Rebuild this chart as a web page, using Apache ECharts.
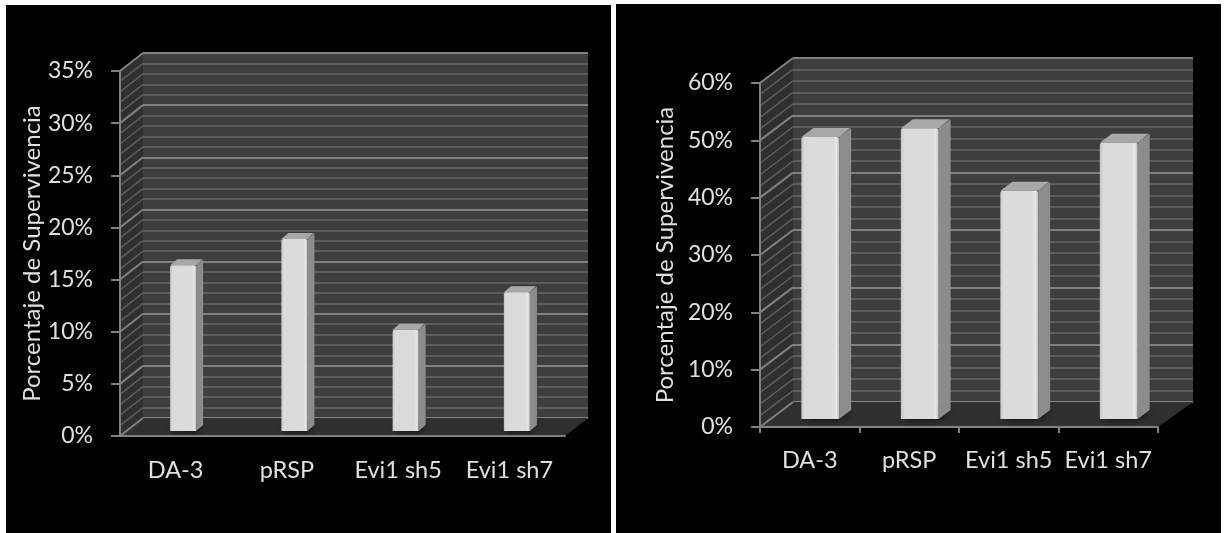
<!DOCTYPE html>
<html>
<head>
<meta charset="utf-8">
<style>html,body{margin:0;padding:0;background:#fff}#c{width:1228px;height:533px;filter:blur(0.45px)}</style>
<script src="https://cdn.jsdelivr.net/npm/echarts@6/dist/echarts.min.js"></script>
</head>
<body>
<div id="c"></div>
<script>
const categories = ['DA-3', 'pRSP', 'Evi1 sh5', 'Evi1 sh7'];
const leftValues = [15.9, 18.4, 9.7, 13.3];
const rightValues = [49.2, 50.7, 39.8, 48.2];
const leftMinorTicks = [0,1,2,3,4,5,6,7,8,9,10,11,12,13,14,15,16,17,18,19,20,21,22,23,24,25,26,27,28,29,30,31,32,33,34,35];
const rightMinorTicks = [0,2,4,6,8,10,12,14,16,18,20,22,24,26,28,30,32,34,36,38,40,42,44,46,48,50,52,54,56,58,60];
const yLabelTitle = 'Porcentaje de Supervivencia';

const AXIS = '#808080', MAJOR = '#808080', MINOR = '#5c5c5c', WALL = '#3e3e3e', SIDE = '#2f2f2f', FLOOR = '#303030', TEXT = '#e0e0e0';
const FONT = 'Lato, "Open Sans", sans-serif';

const panels = [
  { values: leftValues, ticks: leftMinorTicks, max: 35, major: 5, rect: {left:120, top:71, width:445, height:365},
    depth: [23, 18], backExtra: 0, barRatio: 0.234, barOff: [7.5, 5], barDepth: [7, 6], nameGap: 74, xTick: false, labelMargin: 22 },
  { values: rightValues, ticks: rightMinorTicks, max: 60, major: 10, rect: {left:760, top:83, width:398, height:344},
    depth: [33, 25], backExtra: 2, barRatio: 0.38, barOff: [10.5, 8], barDepth: [12, 9], nameGap: 83, xTick: true, labelMargin: 21 }
];

const grid = [], xAxis = [], yAxis = [], series = [];
panels.forEach((p) => {
  const f = grid.length, b = f + 1;
  grid.push({ left: p.rect.left, top: p.rect.top, width: p.rect.width, height: p.rect.height, containLabel: false, z: 0 });
  grid.push({ left: p.rect.left + p.depth[0], top: p.rect.top - p.depth[1], width: p.rect.width + p.backExtra, height: p.rect.height,
              show: true, backgroundColor: WALL, borderWidth: 0, z: 0 });
  xAxis.push({ gridIndex: f, type: 'category', data: categories, z: 5,
    axisLine: { show: true, lineStyle: { color: AXIS, width: 2 } },
    axisTick: { show: p.xTick, length: 6, lineStyle: { color: AXIS, width: 2 } },
    axisLabel: { color: TEXT, fontSize: 23.5, fontFamily: FONT, margin: p.labelMargin, interval: 0 } });
  yAxis.push({ gridIndex: f, type: 'value', min: 0, max: p.max, interval: p.major, z: 5,
    name: yLabelTitle, nameLocation: 'middle', nameGap: p.nameGap,
    nameTextStyle: { color: TEXT, fontSize: 24, fontFamily: FONT },
    axisLine: { show: true, lineStyle: { color: AXIS, width: 2 } },
    axisTick: { show: true, length: 9, lineStyle: { color: AXIS, width: 2 } },
    axisLabel: { color: TEXT, fontSize: 23, fontFamily: FONT, margin: 27, padding: [3, 0, 0, 0], formatter: '{value}%' },
    splitLine: { show: false } });
  xAxis.push({ gridIndex: b, type: 'category', data: categories, show: false });
  yAxis.push({ gridIndex: b, type: 'value', min: 0, max: p.max, interval: p.major, z: 1,
    axisLine: { show: false }, axisTick: { show: false }, axisLabel: { show: false },
    splitLine: { show: true, lineStyle: { color: MAJOR, width: 2 } },
    minorTick: { show: false, splitNumber: 5 },
    minorSplitLine: { show: true, lineStyle: { color: MINOR, width: 2 } } });

  // side wall + floor
  series.push({ type: 'custom', xAxisIndex: f, yAxisIndex: f, z: 1, silent: true, clip: false,
    data: [[0, 0]],
    renderItem(params, api) {
      const top = api.coord([0, p.max])[1], bot = api.coord([0, 0])[1];
      const cs = params.coordSys, x0 = cs.x, x1 = cs.x + cs.width, [dx, dy] = p.depth;
      return { type: 'group', children: [
        { type: 'polygon', shape: { points: [[x0, top], [x0 + dx, top - dy], [x0 + dx, bot - dy], [x0, bot]] }, style: { fill: SIDE } },
        { type: 'polygon', shape: { points: [[x0, bot], [x1, bot], [x1 + dx + p.backExtra, bot - dy], [x0 + dx, bot - dy]] }, style: { fill: FLOOR } }
      ] };
    } });
  // side-wall hatch lines
  series.push({ type: 'custom', xAxisIndex: f, yAxisIndex: f, z: 1.5, silent: true, clip: false,
    data: p.ticks.map(v => [0, v]),
    renderItem(params, api) {
      const v = api.value(1), y = api.coord([0, v])[1], x0 = params.coordSys.x, [dx, dy] = p.depth;
      const isMajor = v % p.major === 0;
      return { type: 'line', shape: { x1: x0, y1: y, x2: x0 + dx, y2: y - dy },
               style: { stroke: isMajor ? MAJOR : MINOR, lineWidth: isMajor ? 2 : 1.5 } };
    } });
  // bars
  series.push({ type: 'custom', name: 'Supervivencia', xAxisIndex: f, yAxisIndex: f, z: 3, clip: false,
    data: p.values.map((v, i) => [i, v]),
    renderItem(params, api) {
      const c = api.coord([api.value(0), api.value(1)]), base = api.coord([api.value(0), 0]);
      const w = api.size([1, 0])[0] * p.barRatio;
      const xl = c[0] + p.barOff[0] - w / 2, xr = xl + w;
      const yt = c[1] - p.barOff[1] + 0, yb = base[1] - p.barOff[1];
      const [bx, by] = p.barDepth;
      return { type: 'group', children: [
        { type: 'polygon', shape: { points: [[xl + 2, yb], [xr, yb], [xr + bx, yb - by], [xl + bx, yb - by]] },
          style: { fill: '#222', shadowBlur: 9, shadowColor: 'rgba(0,0,0,0.9)' } },
        { type: 'polygon', shape: { points: [[xr, yt], [xr + bx, yt - by], [xr + bx, yb - by], [xr, yb]] },
          style: { fill: '#8c8c8c' } },
        { type: 'polygon', shape: { points: [[xl, yt], [xl + bx, yt - by], [xr + bx - 1, yt - by], [xr, yt]] },
          style: { fill: '#a8a8a8' } },
        { type: 'rect', shape: { x: xl, y: yt, width: w, height: yb - yt, r: [2, 2, 0, 0] },
          style: { fill: { type: 'linear', x: 0, y: 0, x2: 1, y2: 0, colorStops: [
            { offset: 0, color: '#c4c4c4' }, { offset: 0.08, color: '#dadada' }, { offset: 0.85, color: '#dcdcdc' },
            { offset: 0.93, color: '#e8e8e8' }, { offset: 1, color: '#b8b8b8' } ] } } }
      ] };
    } });
});

const chart = echarts.init(document.getElementById('c'), null, { renderer: 'canvas' });
chart.setOption({
  animation: false,
  backgroundColor: '#ffffff',
  graphic: [
    { type: 'rect', z: -10, shape: { x: 6, y: 5, width: 605, height: 528 }, style: { fill: '#000' } },
    { type: 'rect', z: -10, shape: { x: 616, y: 4, width: 605, height: 529 }, style: { fill: '#000' } }
  ],
  grid, xAxis, yAxis, series
});
</script>
</body>
</html>
